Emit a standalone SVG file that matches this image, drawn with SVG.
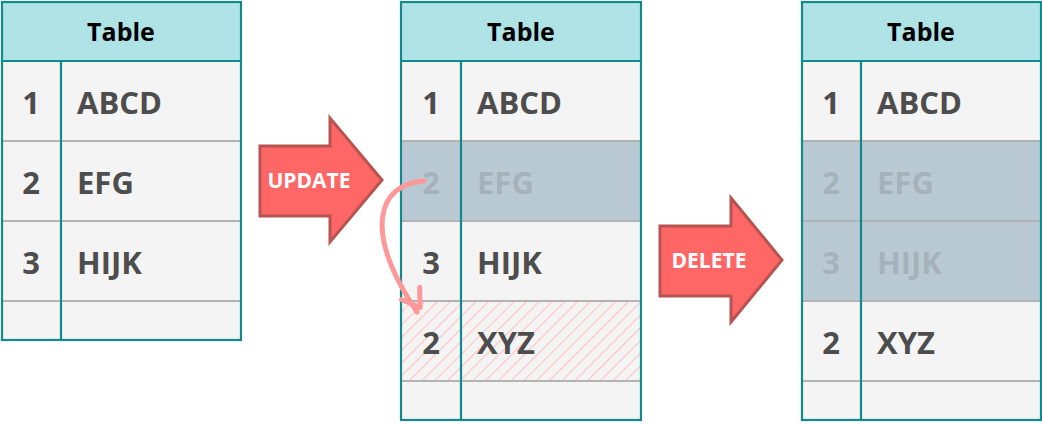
<svg xmlns="http://www.w3.org/2000/svg" width="1042" height="424" viewBox="0 0 1042 424">
<defs>
<style>
.hdr{fill:#b0e3e6;}
.body{fill:#f4f4f4;}
.hl{fill:#b9c9d3;}
.border{fill:none;stroke:#12898c;stroke-width:2.2;}
.sep{stroke:#b3b3b3;stroke-width:2.2;}
.title{font-family:"Open Sans",sans-serif;font-weight:bold;font-size:25px;fill:#000;text-anchor:middle;}
.cell{font-family:"Open Sans",sans-serif;font-weight:bold;font-size:31px;fill:#4d4d4d;}
.num{text-anchor:middle;}
.faded{fill:#a5b2bb;}
.arrow{fill:#ff6666;stroke:#b85450;stroke-width:3;}
.alabel{font-family:"Open Sans",sans-serif;font-weight:bold;font-size:21px;fill:#fff;text-anchor:middle;}
</style>
<pattern id="hatch" patternUnits="userSpaceOnUse" width="9" height="9" patternTransform="rotate(45)">
<line x1="0" y1="0" x2="0" y2="9" stroke="#ffc4c4" stroke-width="2.4"/>
</pattern>
<marker id="head" markerWidth="10" markerHeight="10" refX="5" refY="5" orient="auto" markerUnits="userSpaceOnUse" overflow="visible">
<path d="M -14 -11 L 3 0 L -14 11" fill="none" stroke="#ff9999" stroke-width="5" stroke-linecap="round" stroke-linejoin="round"/>
</marker>
</defs>

<g id="table1">
<rect class="hdr" x="2" y="2" width="239" height="59"/>
<rect class="body" x="2" y="61" width="239" height="279"/>
<line class="sep" x1="2" y1="141" x2="241" y2="141"/>
<line class="sep" x1="2" y1="221" x2="241" y2="221"/>
<line class="sep" x1="2" y1="301" x2="241" y2="301"/>
<line class="border" x1="61" y1="61" x2="61" y2="340"/>
<line class="border" x1="2" y1="61" x2="241" y2="61"/>
<rect class="border" x="2" y="2" width="239" height="338"/>
<text class="title" x="121" y="41">Table</text>
<text class="cell num" x="31" y="114">1</text>
<text class="cell" x="77" y="114">ABCD</text>
<text class="cell num" x="31" y="194">2</text>
<text class="cell" x="77" y="194">EFG</text>
<text class="cell num" x="31" y="274">3</text>
<text class="cell" x="77" y="274">HIJK</text>
</g>

<g id="table2">
<rect class="hdr" x="401" y="2" width="240" height="59"/>
<rect class="body" x="401" y="61" width="240" height="359"/>
<rect class="hl" x="401" y="141" width="240" height="80"/>
<rect x="401" y="301" width="240" height="80" fill="url(#hatch)"/>
<line class="sep" x1="401" y1="141" x2="641" y2="141"/>
<line class="sep" x1="401" y1="221" x2="641" y2="221"/>
<line class="sep" x1="401" y1="301" x2="641" y2="301"/>
<line class="sep" x1="401" y1="381" x2="641" y2="381"/>
<line class="border" x1="461" y1="61" x2="461" y2="420"/>
<line class="border" x1="401" y1="61" x2="641" y2="61"/>
<rect class="border" x="401" y="2" width="240" height="418"/>
<text class="title" x="521" y="41">Table</text>
<text class="cell num" x="431" y="114">1</text>
<text class="cell" x="477" y="114">ABCD</text>
<text class="cell num faded" x="431" y="194">2</text>
<text class="cell faded" x="477" y="194">EFG</text>
<text class="cell num" x="431" y="274">3</text>
<text class="cell" x="477" y="274">HIJK</text>
<text class="cell num" x="431" y="354">2</text>
<text class="cell" x="477" y="354">XYZ</text>
</g>

<g id="table3">
<rect class="hdr" x="802" y="2" width="239" height="59"/>
<rect class="body" x="802" y="61" width="239" height="359"/>
<rect class="hl" x="802" y="141" width="239" height="160"/>
<line class="sep" x1="802" y1="141" x2="1041" y2="141"/>
<line class="sep" x1="802" y1="221" x2="1041" y2="221"/>
<line class="sep" x1="802" y1="301" x2="1041" y2="301"/>
<line class="sep" x1="802" y1="381" x2="1041" y2="381"/>
<line class="border" x1="861" y1="61" x2="861" y2="420"/>
<line class="border" x1="802" y1="61" x2="1041" y2="61"/>
<rect class="border" x="802" y="2" width="239" height="418"/>
<text class="title" x="921" y="41">Table</text>
<text class="cell num" x="831" y="114">1</text>
<text class="cell" x="877" y="114">ABCD</text>
<text class="cell num faded" x="831" y="194">2</text>
<text class="cell faded" x="877" y="194">EFG</text>
<text class="cell num faded" x="831" y="274">3</text>
<text class="cell faded" x="877" y="274">HIJK</text>
<text class="cell num" x="831" y="354">2</text>
<text class="cell" x="877" y="354">XYZ</text>
</g>

<g id="update">
<path class="arrow" d="M 260 146 L 330 146 L 330 118 L 382 180 L 330 242 L 330 216 L 260 216 Z"/>
<text class="alabel" x="309" y="188">UPDATE</text>
</g>

<g id="delete">
<path class="arrow" d="M 660 226 L 731 226 L 731 198 L 782 260 L 731 322 L 731 296 L 660 296 Z"/>
<text class="alabel" x="709" y="268">DELETE</text>
</g>

<g id="connectors">
<path d="M 424 181 C 378 184, 362 230, 417 312" fill="none" stroke="#ff9999" stroke-width="5" stroke-linecap="round" marker-end="url(#head)"/>
</g>
</svg>
